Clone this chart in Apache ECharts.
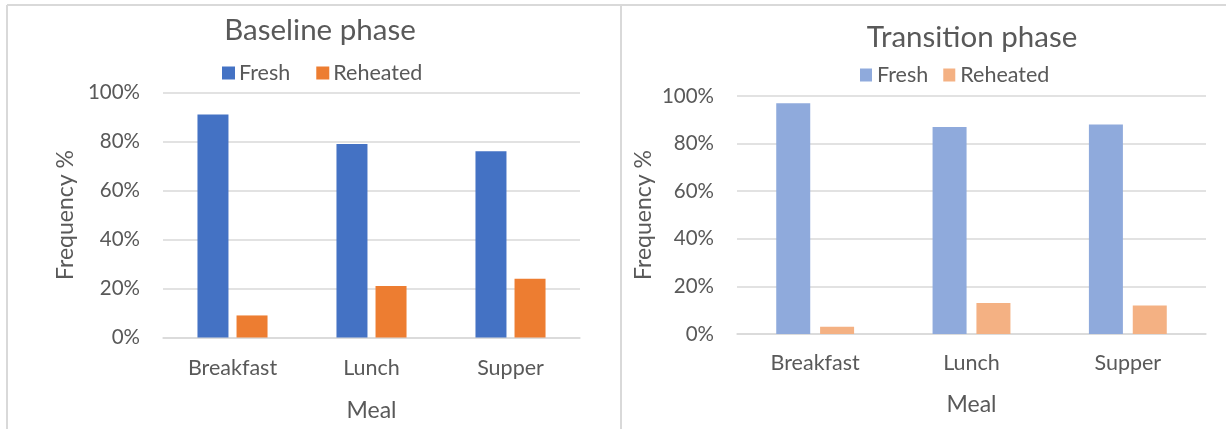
<!DOCTYPE html>
<html>
<head>
<meta charset="utf-8">
<script src="https://cdn.jsdelivr.net/npm/echarts@6/dist/echarts.min.js"></script>
<style>
  html, body { margin: 0; padding: 0; background: #ffffff; }
  #chart { width: 1226px; height: 429px; }
</style>
</head>
<body>
<div id="chart"></div>
<script>
// Meal categories shared by both phases
const categories = ['Breakfast', 'Lunch', 'Supper'];

// Share of meals served fresh vs reheated (%)
const baselineFresh = [91, 79, 76];
const baselineReheated = [9, 21, 24];
const transitionFresh = [97, 87, 88];
const transitionReheated = [3, 13, 12];

// Value axis range and step (%)
const yMin = 0;
const yMax = 100;
const yStep = 20;

const FONT = 'Lato, "Noto Sans", sans-serif';
const TEXT = '#595959';
const GRID_LINE = '#d9d9d9';

const colors = {
  baseline: { fresh: '#4472C4', reheated: '#ED7D31' },
  transition: { fresh: '#8FAADC', reheated: '#F4B183' }
};

function valueAxis(gridIndex, nameGap) {
  return {
    type: 'value', gridIndex: gridIndex,
    min: yMin, max: yMax, interval: yStep,
    name: 'Frequency %', nameLocation: 'middle', nameGap: nameGap, nameRotate: 90,
    nameTextStyle: { color: TEXT, fontSize: 23, fontFamily: FONT },
    axisLine: { show: false }, axisTick: { show: false },
    axisLabel: { color: TEXT, fontSize: 20.5, fontFamily: FONT, margin: 23, formatter: '{value}%' },
    splitLine: { lineStyle: { color: GRID_LINE, width: 1.5 } }
  };
}

function categoryAxis(gridIndex, labelMargin, nameGap) {
  return {
    type: 'category', gridIndex: gridIndex, data: categories,
    name: 'Meal', nameLocation: 'middle', nameGap: nameGap,
    nameTextStyle: { color: TEXT, fontSize: 23, fontFamily: FONT },
    axisLine: { lineStyle: { color: GRID_LINE, width: 1.5 } },
    axisTick: { show: false },
    axisLabel: { color: TEXT, fontSize: 21.5, fontFamily: FONT, margin: labelMargin }
  };
}

function bar(name, data, color, axisIndex, width, gap) {
  return {
    type: 'bar', name: name, data: data,
    xAxisIndex: axisIndex, yAxisIndex: axisIndex,
    barWidth: width, barGap: gap,
    itemStyle: { color: color },
    emphasis: { disabled: true }
  };
}

const chart = echarts.init(document.getElementById('chart'), null, { renderer: 'canvas' });

chart.setOption({
  animation: false,
  backgroundColor: '#ffffff',
  title: [
    { text: 'Baseline phase', left: 315, top: 10, textAlign: 'center',
      textStyle: { color: TEXT, fontSize: 29.5, fontWeight: 'normal', fontFamily: FONT } },
    { text: 'Transition phase', left: 967, top: 17.5, textAlign: 'center',
      textStyle: { color: TEXT, fontSize: 29.5, fontWeight: 'normal', fontFamily: FONT } }
  ],
  legend: [
    { left: 217, top: 57, itemWidth: 13, itemHeight: 13, itemGap: 26, icon: 'rect',
      textStyle: { color: TEXT, fontSize: 21.5, fontFamily: FONT, padding: [0, 0, 0, -1] },
      data: [
        { name: 'Fresh', itemStyle: { color: colors.baseline.fresh } },
        { name: 'Reheated', itemStyle: { color: colors.baseline.reheated } }
      ] },
    { left: 855, top: 59, itemWidth: 12, itemHeight: 13, itemGap: 15, icon: 'rect',
      textStyle: { color: TEXT, fontSize: 21.5, fontFamily: FONT },
      data: [
        { name: 'Fresh', itemStyle: { color: colors.transition.fresh } },
        { name: 'Reheated', itemStyle: { color: colors.transition.reheated } }
      ] }
  ],
  grid: [
    { left: 163, right: 646, top: 92.5, bottom: 91.5 },
    { left: 737, right: 20, top: 96, bottom: 95 }
  ],
  xAxis: [categoryAxis(0, 20, 61.5), categoryAxis(1, 18, 59.5)],
  yAxis: [valueAxis(0, 85.5), valueAxis(1, 82)],
  series: [
    bar('Fresh', baselineFresh, colors.baseline.fresh, 0, 31, '26%'),
    bar('Reheated', baselineReheated, colors.baseline.reheated, 0, 31, '26%'),
    bar('Fresh', transitionFresh, colors.transition.fresh, 1, 34, '29%'),
    bar('Reheated', transitionReheated, colors.transition.reheated, 1, 34, '29%')
  ],
  graphic: [
    // panel frame: shared top edge, outer left edge and the divider between panels
    { type: 'line', shape: { x1: 7, y1: 5, x2: 1226, y2: 5 }, style: { stroke: GRID_LINE, lineWidth: 2 }, silent: true },
    { type: 'line', shape: { x1: 7, y1: 5, x2: 7, y2: 429 }, style: { stroke: GRID_LINE, lineWidth: 2 }, silent: true },
    { type: 'line', shape: { x1: 621, y1: 5, x2: 621, y2: 429 }, style: { stroke: GRID_LINE, lineWidth: 2 }, silent: true }
  ]
});
</script>
</body>
</html>
